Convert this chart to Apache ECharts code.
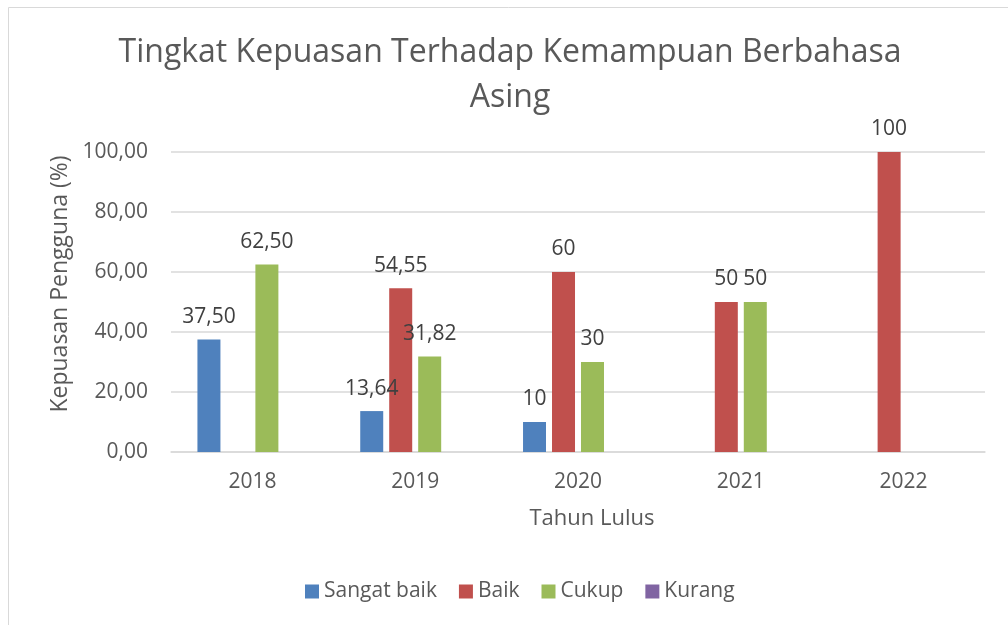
<!DOCTYPE html>
<html>
<head>
<meta charset="utf-8">
<script src="https://cdn.jsdelivr.net/npm/echarts@6/dist/echarts.min.js"></script>
<style>html,body{margin:0;padding:0;background:#fff}#c{width:1008px;height:625px}</style>
</head>
<body>
<div id="c"></div>
<script>
const titleText = 'Tingkat Kepuasan Terhadap Kemampuan Berbahasa\nAsing';
const categories = ['2018', '2019', '2020', '2021', '2022'];
const yTicks = [0, 20, 40, 60, 80, 100];
const seriesNames = ['Sangat baik', 'Baik', 'Cukup', 'Kurang'];
const sangatBaik = [37.5, 13.64, 10, null, null];
const baik = [null, 54.55, 60, 50, 100];
const cukup = [62.5, 31.82, 30, 50, null];
const kurang = [null, null, null, null, null];
const sangatBaikLabels = ['37,50', '13,64', '10', '', ''];
const baikLabels = ['', '54,55', '60', '50', '100'];
const cukupLabels = ['62,50', '31,82', '30', '50', ''];
const kurangLabels = ['', '', '', '', ''];
const colors = ['#4F81BD', '#C0504D', '#9BBB59', '#8064A2'];

const FONT = 'Open Sans';
const values = [sangatBaik, baik, cukup, kurang];
const labels = [sangatBaikLabels, baikLabels, cukupLabels, kurangLabels];

const chart = echarts.init(document.getElementById('c'));
chart.setOption({
  animation: false,
  textStyle: { fontFamily: FONT },
  color: colors,
  graphic: [{
    type: 'rect', shape: { x: 8.5, y: 7.5, width: 1100, height: 700 },
    style: { fill: 'none', stroke: '#D9D9D9', lineWidth: 1 }, silent: true
  }, {
    type: 'text', x: 510, y: 30, silent: true,
    style: {
      text: titleText, align: 'center', verticalAlign: 'top',
      fontFamily: FONT, fontSize: 32, fill: '#595959', lineHeight: 45
    }
  }],
  legend: {
    bottom: 18, left: 300, itemWidth: 14, itemHeight: 14, itemGap: 22,
    icon: 'rect',
    textStyle: { fontFamily: FONT, fontSize: 21, color: '#595959' },
    data: seriesNames
  },
  grid: { left: 171, right: 23, top: 152, bottom: 173 },
  xAxis: {
    type: 'category', data: categories,
    name: 'Tahun Lulus', nameLocation: 'middle', nameGap: 56,
    nameTextStyle: { fontFamily: FONT, fontSize: 22, color: '#595959', padding: [0, 0, 0, 28] },
    axisLine: { lineStyle: { color: '#D9D9D9', width: 1.5 } },
    axisTick: { show: false },
    axisLabel: { margin: 20, fontFamily: FONT, fontSize: 21, color: '#595959' }
  },
  yAxis: {
    type: 'value', min: yTicks[0], max: yTicks[yTicks.length - 1], interval: 20,
    name: 'Kepuasan Pengguna (%)', nameLocation: 'middle', nameGap: 92,
    nameTextStyle: { fontFamily: FONT, fontSize: 23, color: '#595959', padding: [0, 0, 0, 36] },
    axisLine: { show: false }, axisTick: { show: false },
    splitLine: { lineStyle: { color: '#D9D9D9', width: 1.5 } },
    axisLabel: {
      margin: 23, fontFamily: FONT, fontSize: 21, color: '#595959',
      formatter: v => v.toFixed(2).replace('.', ',')
    }
  },
  series: seriesNames.map((n, i) => ({
    name: n, type: 'bar', data: values[i],
    barWidth: 23, barGap: '26%', barCategoryGap: '32%',
    label: {
      show: true, position: 'top', distance: 12,
      fontFamily: FONT, fontSize: 21, color: '#404040',
      formatter: p => labels[i][p.dataIndex]
    }
  }))
});
</script>
</body>
</html>
